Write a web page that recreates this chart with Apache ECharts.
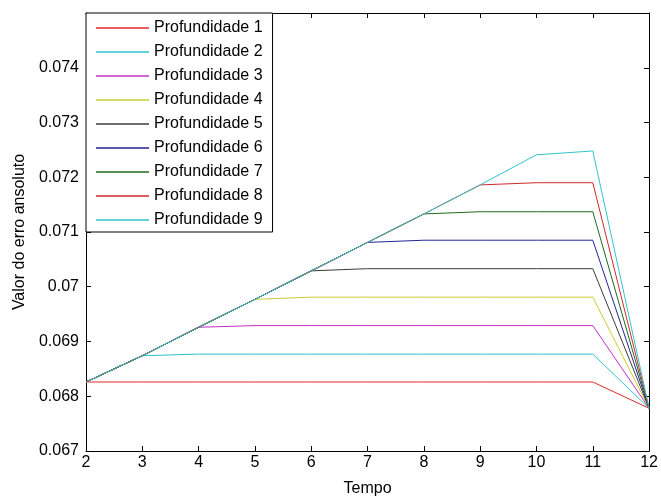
<!DOCTYPE html>
<html>
<head>
<meta charset="utf-8">
<script src="https://cdn.jsdelivr.net/npm/echarts@6/dist/echarts.min.js"></script>
<style>
html,body{margin:0;padding:0;background:#fff;}
#chart{width:661px;height:502px;}
</style>
</head>
<body>
<div id="chart"></div>
<script>
var tempo = [2, 3, 4, 5, 6, 7, 8, 9, 10, 11, 12];
var seriesNames = ['Profundidade 1','Profundidade 2','Profundidade 3','Profundidade 4','Profundidade 5','Profundidade 6','Profundidade 7','Profundidade 8','Profundidade 9'];
var prof1 = [0.06826, 0.06826, 0.06826, 0.06826, 0.06826, 0.06826, 0.06826, 0.06826, 0.06826, 0.06826, 0.06778];
var prof2 = [0.06826, 0.06874, 0.06877, 0.06877, 0.06877, 0.06877, 0.06877, 0.06877, 0.06877, 0.06877, 0.06778];
var prof3 = [0.06826, 0.06874, 0.06926, 0.06929, 0.06929, 0.06929, 0.06929, 0.06929, 0.06929, 0.06929, 0.06778];
var prof4 = [0.06826, 0.06874, 0.06926, 0.06977, 0.06981, 0.06981, 0.06981, 0.06981, 0.06981, 0.06981, 0.06778];
var prof5 = [0.06826, 0.06874, 0.06926, 0.06977, 0.07029, 0.07033, 0.07033, 0.07033, 0.07033, 0.07033, 0.06778];
var prof6 = [0.06826, 0.06874, 0.06926, 0.06977, 0.07029, 0.07081, 0.07085, 0.07085, 0.07085, 0.07085, 0.06778];
var prof7 = [0.06826, 0.06874, 0.06926, 0.06977, 0.07029, 0.07081, 0.07133, 0.07137, 0.07137, 0.07137, 0.06778];
var prof8 = [0.06826, 0.06874, 0.06926, 0.06977, 0.07029, 0.07081, 0.07133, 0.07186, 0.07190, 0.07190, 0.06778];
var prof9 = [0.06826, 0.06874, 0.06926, 0.06977, 0.07029, 0.07081, 0.07133, 0.07186, 0.07241, 0.07248, 0.06778];
var allValues = [prof1, prof2, prof3, prof4, prof5, prof6, prof7, prof8, prof9];
var xTicks = [2, 3, 4, 5, 6, 7, 8, 9, 10, 11, 12];
var yTickLabels = ['0.067','0.068','0.069','0.07','0.071','0.072','0.073','0.074'];

var colors = ['#e02828','#28c4cc','#c030c4','#cccc30','#3c3c3c','#22229a','#1e6a1e','#d02a2a','#30c4cc'];
var FONT = 'Liberation Sans, Arial, sans-serif';

var series = allValues.map(function (vals, i) {
  return {
    name: seriesNames[i],
    type: 'line',
    symbol: 'none',
    animation: false,
    lineStyle: { width: 1, color: colors[i] },
    itemStyle: { color: colors[i] },
    data: tempo.map(function (t, j) { return [t, vals[j]]; })
  };
});

function yFmt(v) {
  var s = (+v).toFixed(3).replace(/0+$/, '');
  return yTickLabels.indexOf(s) >= 0 ? s : '';
}

var axisCommonX = {
  type: 'value', min: 2, max: 12, interval: 1,
  axisLine: { show: true, lineStyle: { color: '#000', width: 1 } },
  axisTick: { show: true, inside: true, length: 5, lineStyle: { color: '#000' } },
  splitLine: { show: false }
};
var axisCommonY = {
  type: 'value', min: 0.067, max: 0.075, interval: 0.001,
  axisLine: { show: true, lineStyle: { color: '#000', width: 1 } },
  axisTick: { show: true, inside: true, length: 5, lineStyle: { color: '#000' } },
  splitLine: { show: false }
};

var chart = echarts.init(document.getElementById('chart'));
chart.setOption({
  backgroundColor: '#fff',
  animation: false,
  color: colors,
  grid: { left: 86, right: 9, top: 13, bottom: 45, containLabel: false },
  legend: {
    orient: 'vertical',
    left: 86, top: 13,
    data: seriesNames,
    icon: 'rect',
    itemWidth: 53, itemHeight: 1.5,
    itemGap: 8,
    padding: [7, 10, 4, 10],
    backgroundColor: '#fff',
    borderColor: '#000', borderWidth: 1,
    textStyle: { fontFamily: FONT, fontSize: 16, color: '#000', lineHeight: 16, padding: [0, 0, 0, 0] },
    selectedMode: false
  },
  xAxis: [
    Object.assign({}, axisCommonX, {
      position: 'bottom',
      name: 'Tempo', nameLocation: 'middle', nameGap: 30,
      nameTextStyle: { fontFamily: FONT, fontSize: 16, color: '#000' },
      axisLabel: { show: true, margin: 4, fontFamily: FONT, fontSize: 16, color: '#000',
        formatter: function (v) { return xTicks.indexOf(v) >= 0 ? String(v) : ''; } }
    }),
    Object.assign({}, axisCommonX, { position: 'top', axisLabel: { show: false } })
  ],
  yAxis: [
    Object.assign({}, axisCommonY, {
      position: 'left',
      name: 'Valor do erro ansoluto', nameLocation: 'middle', nameGap: 57, nameRotate: 90,
      nameTextStyle: { fontFamily: FONT, fontSize: 16, color: '#000' },
      axisLabel: { show: true, margin: 7, fontFamily: FONT, fontSize: 16, color: '#000', formatter: yFmt }
    }),
    Object.assign({}, axisCommonY, { position: 'right', axisLabel: { show: false } })
  ],
  series: series
});
</script>
</body>
</html>
